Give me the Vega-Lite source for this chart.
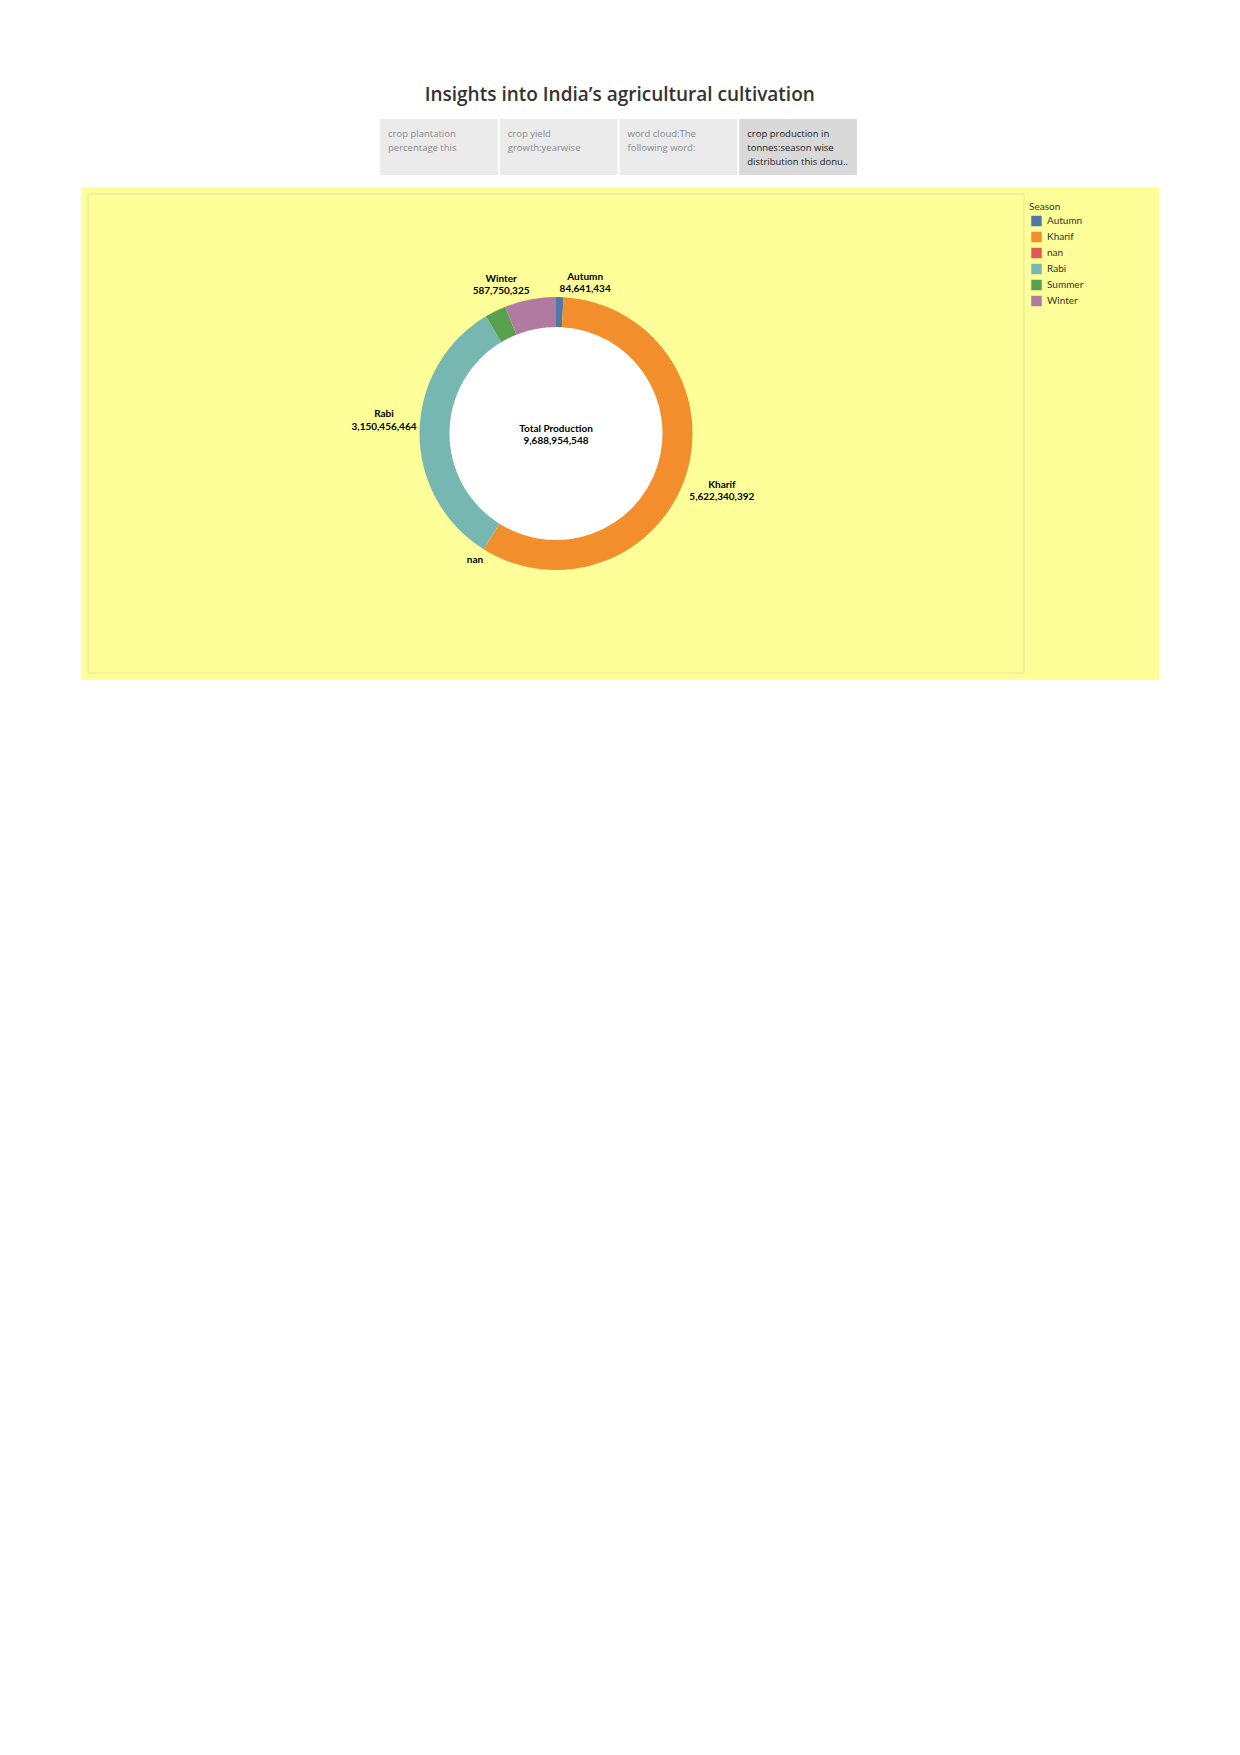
{
  "$schema": "https://vega.github.io/schema/vega-lite/v6.json",
  "background": "#ffffff",
  "padding": {"left": 80, "top": 86, "right": 5, "bottom": 5},
  "bounds": "flush",
  "spacing": 19,
  "title": {
    "text": "Insights into India’s agricultural cultivation",
    "font": "Open Sans",
    "fontSize": 19,
    "fontWeight": 600,
    "color": "#333333",
    "anchor": "middle",
    "offset": 14
  },
  "datasets": {
    "seasons": [
      {"Season": "Autumn", "Production": 84641434},
      {"Season": "Kharif", "Production": 5622340392},
      {"Season": "nan", "Production": 0},
      {"Season": "Rabi", "Production": 3150456464},
      {"Season": "Summer", "Production": 243765933},
      {"Season": "Winter", "Production": 587750325}
    ],
    "tabs": [
      {"tab": "1", "text": "crop plantation\npercentage this"},
      {"tab": "2", "text": "crop yield\ngrowth:yearwise"},
      {"tab": "3", "text": "word cloud:The\nfollowing word:"},
      {"tab": "4", "text": "crop production in\ntonnes:season wise\ndistribution this donu.."}
    ]
  },
  "resolve": {"scale": {"color": "independent"}, "legend": {"color": "independent"}},
  "vconcat": [
    {
      "width": 1064,
      "height": 56,
      "data": {"name": "tabs"},
      "view": {"stroke": null},
      "layer": [
        {
          "mark": {"type": "bar"},
          "encoding": {
            "x": {"field": "tab", "type": "nominal", "axis": null, "scale": {"range": [292, 769], "paddingInner": 0.017, "paddingOuter": 0}},
            "fill": {"condition": {"test": "datum.tab === '4'", "value": "#d9d9d9"}, "value": "#ebebeb"}
          }
        },
        {
          "mark": {"type": "text", "align": "left", "baseline": "top", "dx": 8, "dy": -18, "lineBreak": "\n", "lineHeight": 14, "font": "Open Sans", "fontSize": 9.5},
          "encoding": {
            "x": {"field": "tab", "type": "nominal", "bandPosition": 0, "axis": null},
            "text": {"field": "text"},
            "fill": {"condition": {"test": "datum.tab === '4'", "value": "#1a1a1a"}, "value": "#8a8a8a"}
          }
        }
      ]
    },
    {
      "hconcat": [
        {
          "width": 936,
          "height": 479,
          "data": {"name": "seasons"},
          "view": {"fill": "#ffff99", "stroke": "#ffff99", "strokeWidth": 14},
          "transform": [
            {"calculate": "lower(datum.Season)", "as": "sortkey"},
            {"calculate": "datum.Production > 0 ? datum.Season + '\\n' + format(datum.Production, ',') : datum.Season", "as": "label"}
          ],
          "layer": [
            {
              "data": {"values": [{}]},
              "mark": {"type": "rect", "fill": "#ffff99", "stroke": "#e4e49e", "strokeWidth": 1},
              "encoding": {}
            },
            {
              "data": {"values": [{}]},
              "mark": {"type": "arc", "outerRadius": 107, "innerRadius": 0, "fill": "#ffffff"},
              "encoding": {}
            },
            {
              "mark": {"type": "arc", "innerRadius": 106.5, "outerRadius": 136.5},
              "encoding": {
                "theta": {"field": "Production", "type": "quantitative", "stack": true},
                "order": {"field": "sortkey", "sort": "ascending"},
                "color": {
                  "field": "Season", "type": "nominal",
                  "scale": {"domain": ["Autumn", "Kharif", "nan", "Rabi", "Summer", "Winter"], "range": ["#4e79a7", "#f28e2b", "#e15759", "#76b7b2", "#59a14f", "#b07aa1"]},
                  "legend": null
                }
              }
            },
            {
              "mark": {"type": "text", "radius": 152.7, "dx": -26, "dy": -5, "font": "Lato", "fontWeight": "bold", "fontSize": 10, "lineBreak": "\n", "lineHeight": 12.5, "baseline": "middle", "fill": "#000000"},
              "encoding": {
                "theta": {"field": "Production", "type": "quantitative", "stack": true},
                "order": {"field": "sortkey", "sort": "ascending"},
                "text": {"condition": {"test": "datum.Season === 'Winter'", "field": "label"}, "value": ""}
              }
            },
            {
              "mark": {"type": "text", "radius": 152, "dx": 25, "dy": -5, "font": "Lato", "fontWeight": "bold", "fontSize": 10, "lineBreak": "\n", "lineHeight": 12.5, "baseline": "middle", "fill": "#000000"},
              "encoding": {
                "theta": {"field": "Production", "type": "quantitative", "stack": true},
                "order": {"field": "sortkey", "sort": "ascending"},
                "text": {"condition": {"test": "datum.Season === 'Autumn'", "field": "label"}, "value": ""}
              }
            },
            {
              "mark": {"type": "text", "radius": 172, "dy": -17.5, "font": "Lato", "fontWeight": "bold", "fontSize": 10, "lineBreak": "\n", "lineHeight": 12.5, "baseline": "middle", "fill": "#000000"},
              "encoding": {
                "theta": {"field": "Production", "type": "quantitative", "stack": true},
                "order": {"field": "sortkey", "sort": "ascending"},
                "text": {"condition": {"test": "datum.Season === 'Rabi'", "field": "label"}, "value": ""}
              }
            },
            {
              "mark": {"type": "text", "radius": 174, "dy": -1.5, "font": "Lato", "fontWeight": "bold", "fontSize": 10, "lineBreak": "\n", "lineHeight": 12.5, "baseline": "middle", "fill": "#000000"},
              "encoding": {
                "theta": {"field": "Production", "type": "quantitative", "stack": true},
                "order": {"field": "sortkey", "sort": "ascending"},
                "text": {"condition": {"test": "datum.Season === 'Kharif'", "field": "label"}, "value": ""}
              }
            },
            {
              "mark": {"type": "text", "radius": 147, "dx": -3, "dy": 2, "font": "Lato", "fontWeight": "bold", "fontSize": 10, "lineBreak": "\n", "lineHeight": 12.5, "baseline": "middle", "fill": "#000000"},
              "encoding": {
                "theta": {"field": "Production", "type": "quantitative", "stack": true},
                "order": {"field": "sortkey", "sort": "ascending"},
                "text": {"condition": {"test": "datum.Season === 'nan'", "field": "label"}, "value": ""}
              }
            },
            {
              "transform": [
                {"aggregate": [{"op": "sum", "field": "Production", "as": "total"}]},
                {"calculate": "'Total Production\\n' + format(datum.total, ',')", "as": "ctext"}
              ],
              "mark": {"type": "text", "dy": -4.5, "font": "Lato", "fontWeight": "bold", "fontSize": 10, "lineBreak": "\n", "lineHeight": 12, "baseline": "middle", "fill": "#000000"},
              "encoding": {"text": {"field": "ctext"}}
            }
          ]
        },
        {
          "width": 120,
          "height": 479,
          "data": {"name": "seasons"},
          "view": {"fill": "#ffff99", "stroke": "#ffff99", "strokeWidth": 14},
          "mark": {"type": "point", "opacity": 0, "filled": true},
          "encoding": {
            "color": {
              "field": "Season", "type": "nominal",
              "scale": {"domain": ["Autumn", "Kharif", "nan", "Rabi", "Summer", "Winter"], "range": ["#4e79a7", "#f28e2b", "#e15759", "#76b7b2", "#59a14f", "#b07aa1"]},
              "legend": {
                "title": "Season",
                "orient": "none",
                "legendX": -3,
                "legendY": 8,
                "padding": 0,
                "titleFont": "Lato",
                "titleFontSize": 10,
                "titleFontWeight": "normal",
                "titleColor": "#333333",
                "titlePadding": 3.5,
                "labelFont": "Lato",
                "labelFontSize": 10,
                "labelColor": "#333333",
                "labelOffset": 5,
                "symbolType": "square",
                "symbolSize": 110,
                "symbolOpacity": 1,
                "symbolStrokeWidth": 0,
                "symbolOffset": 2,
                "rowPadding": 5
              }
            }
          }
        }
      ],
      "spacing": 8,
      "bounds": "flush",
      "resolve": {"scale": {"color": "independent"}, "legend": {"color": "independent"}}
    }
  ]
}
